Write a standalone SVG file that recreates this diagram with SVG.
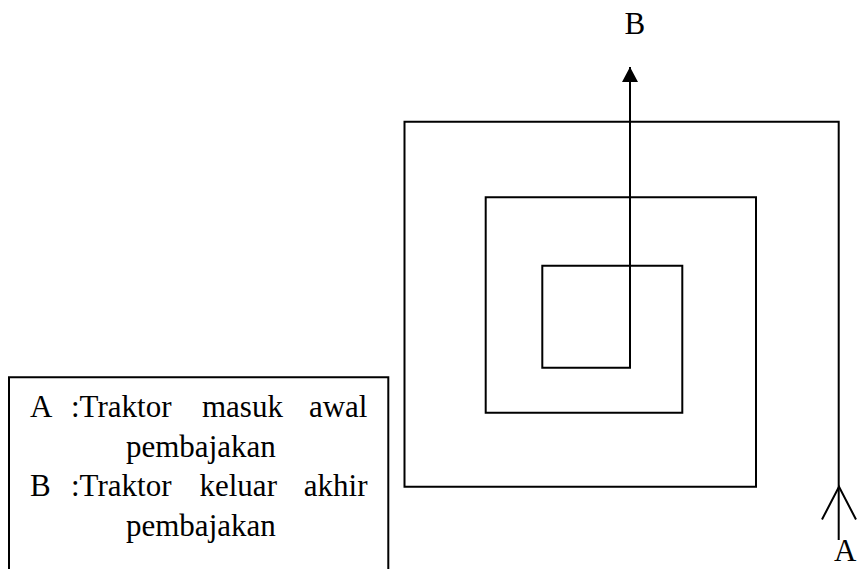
<svg xmlns="http://www.w3.org/2000/svg" width="857" height="569" viewBox="0 0 857 569">
  <style>
    .ln { fill: none; stroke: #000; stroke-width: 2; stroke-linejoin: miter; stroke-linecap: butt; }
    .tx { font-family: "Liberation Serif", "Times New Roman", serif; font-size: 31px; fill: #000; }
  </style>
  <defs>
    <marker id="tri" markerUnits="userSpaceOnUse" markerWidth="16" markerHeight="16" refX="15" refY="8" orient="auto">
      <path d="M0,0 L15,8 L0,16 Z" fill="#000"/>
    </marker>
  </defs>
  <rect width="857" height="569" fill="#fff"/>
  <g id="connectors">
    <path id="spiral" class="ln" marker-end="url(#tri)" d="M838.7,540 V121.7 H404.5 V486.7 H756 V197.3 H485.7 V412.7 H682.3 V265.7 H542.3 V367.7 H630 V67"/>
    <path id="entry-arrow" class="ln" d="M822,519.5 L839,486.7 L856,519.5"/>
  </g>
  <g id="label-B">
    <text class="tx" x="624.5" y="33.5">B</text>
  </g>
  <g id="label-A">
    <text class="tx" x="834" y="561">A</text>
  </g>
  <g id="legend">
    <path class="ln" d="M9,570 V377.3 H388.3 V570"/>
    <text class="tx" x="30" y="417">A</text>
    <text class="tx" x="71" y="417">:Traktor</text>
    <text class="tx" x="202" y="417">masuk</text>
    <text class="tx" x="367.5" y="417" text-anchor="end">awal</text>
    <text class="tx" x="126" y="456.5">pembajakan</text>
    <text class="tx" x="30" y="496">B</text>
    <text class="tx" x="71" y="496">:Traktor</text>
    <text class="tx" x="199.5" y="496">keluar</text>
    <text class="tx" x="367.5" y="496" text-anchor="end">akhir</text>
    <text class="tx" x="126" y="535.5">pembajakan</text>
  </g>
</svg>
